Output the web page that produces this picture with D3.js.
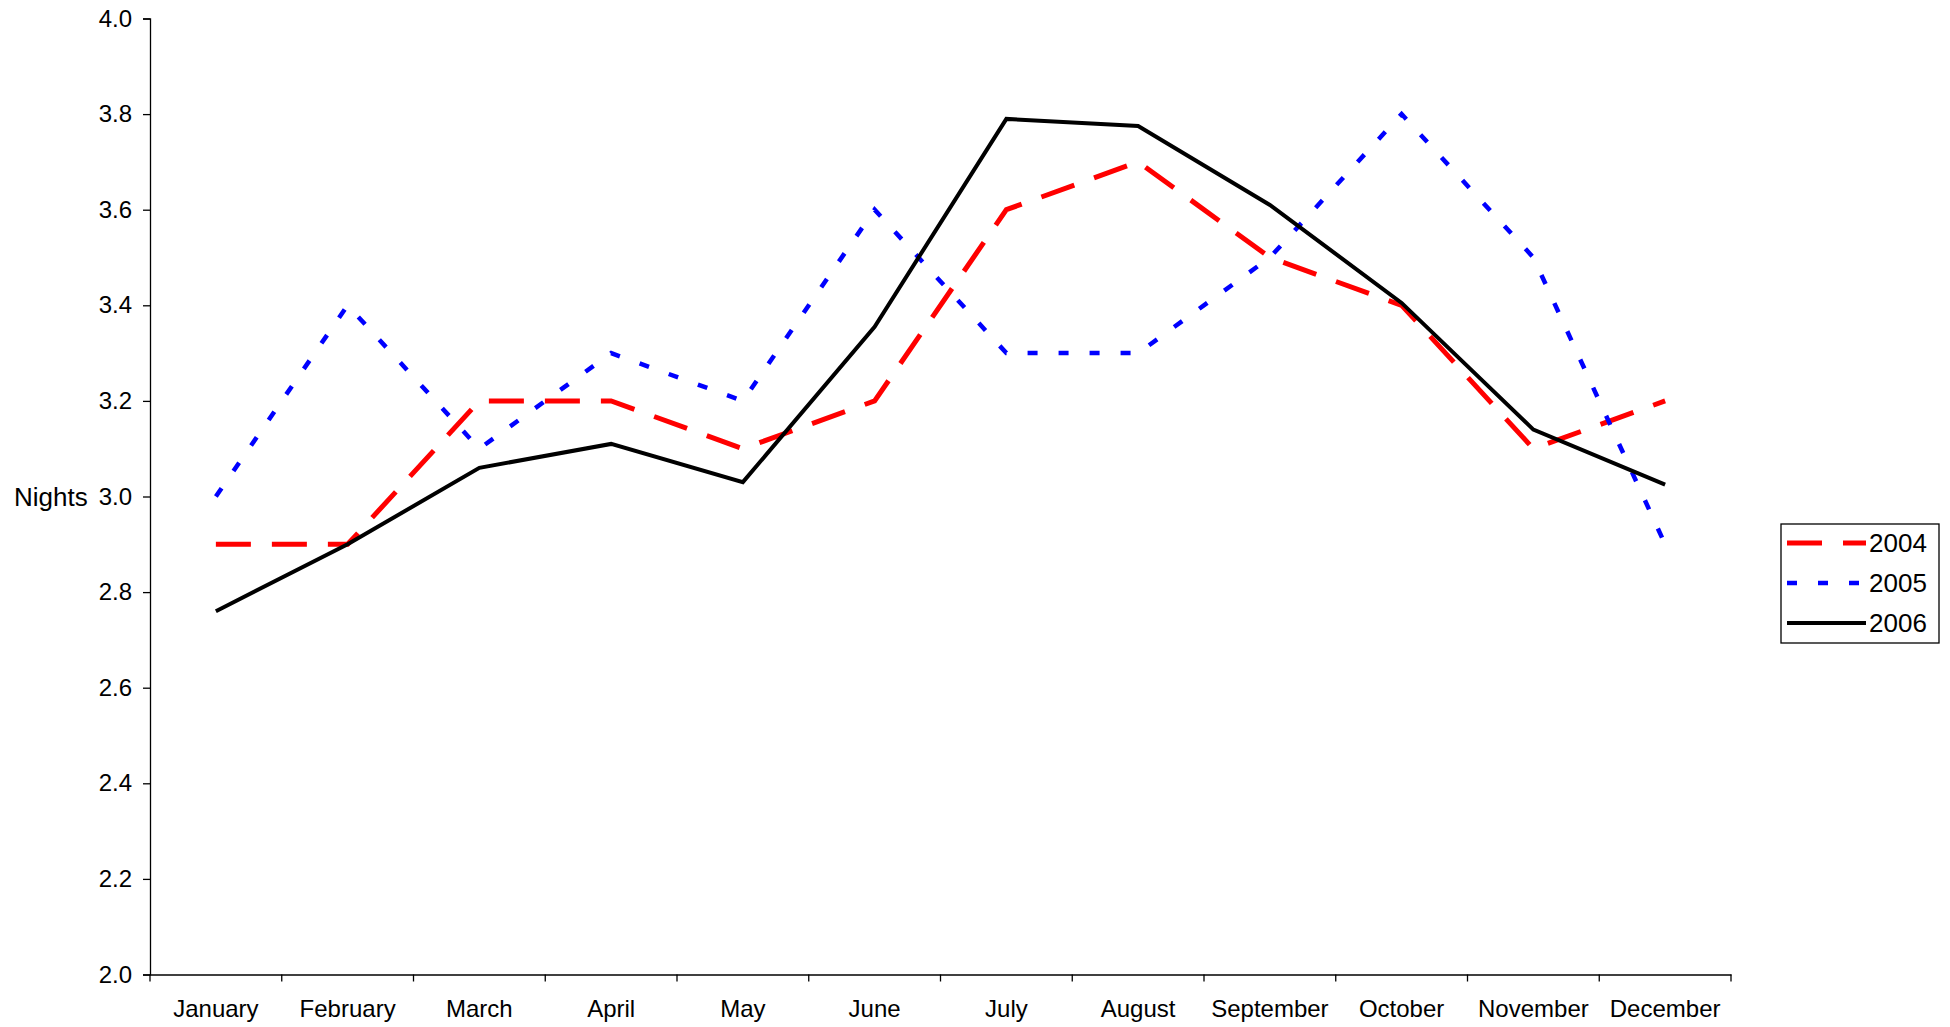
<!DOCTYPE html>
<html>
<head>
<meta charset="utf-8">
<script src="https://cdn.jsdelivr.net/npm/d3@7"></script>
<style>
  body { margin: 0; background: #fff; }
  svg text { font-family: "Liberation Sans", Arial, sans-serif; fill: #000; }
</style>
</head>
<body>
<div id="chart"></div>
<script>
const months = ['January','February','March','April','May','June','July','August','September','October','November','December'];
const nights2004 = [2.9, 2.9, 3.2, 3.2, 3.1, 3.2, 3.6, 3.7, 3.5, 3.4, 3.1, 3.2];
const nights2005 = [3.0, 3.4, 3.1, 3.3, 3.2, 3.6, 3.3, 3.3, 3.5, 3.8, 3.5, 2.9];
const nights2006 = [2.76, 2.9, 3.06, 3.11, 3.03, 3.355, 3.79, 3.775, 3.61, 3.405, 3.14, 3.025];
const yTicks = [2.0, 2.2, 2.4, 2.6, 2.8, 3.0, 3.2, 3.4, 3.6, 3.8, 4.0];

const series = [
    { name: '2004', values: nights2004, color: '#ff0000', width: 5, dash: '35,21' },
    { name: '2005', values: nights2005, color: '#0000ff', width: 4.5, dash: '10,21' },
    { name: '2006', values: nights2006, color: '#000000', width: 4, dash: null }
];

const width = 1950, height = 1027;
const plotLeft = 150, plotRight = 1731, plotTop = 18.5, plotBottom = 974.5;

const svg = d3.select('#chart')
.append('svg')
.attr('width', width)
.attr('height', height);

const x = d3.scaleBand()
.domain(months)
.range([plotLeft, plotRight])
.padding(0);

const y = d3.scaleLinear()
.domain([2, 4])
.range([plotBottom, plotTop]);

// y axis
const yAxis = svg.append('g')
.attr('transform', `translate(${plotLeft},0)`)
.call(d3.axisLeft(y).tickValues(yTicks).tickFormat(d3.format('.1f')).tickSize(7).tickPadding(11));
yAxis.selectAll('text').style('font-size', '24px');
yAxis.selectAll('line, path').attr('stroke', '#000').attr('stroke-width', 1.3);

// x axis: labels at band centers, ticks at band edges
const xAxis = svg.append('g')
.attr('transform', `translate(0,${plotBottom})`)
.call(d3.axisBottom(x).tickSize(0).tickPadding(25));
xAxis.selectAll('text').style('font-size', '24px');
xAxis.select('path').attr('stroke', '#000').attr('stroke-width', 1.3);

const edges = months.map(m => x(m)).concat([plotRight]);
svg.append('g')
.selectAll('line')
.data(edges)
.enter()
.append('line')
.attr('x1', d => d)
.attr('x2', d => d)
.attr('y1', plotBottom)
.attr('y2', plotBottom + 7)
.attr('stroke', '#000')
.attr('stroke-width', 1.3);

// axis title
svg.append('text')
.attr('x', 14)
.attr('y', y(3.0) + 9)
.style('font-size', '26px')
.text('Nights');

// lines
const line = d3.line()
.x((d, i) => x(months[i]) + x.bandwidth() / 2)
.y(d => y(d));

series.forEach(s => {
    svg.append('path')
    .datum(s.values)
    .attr('d', line)
    .attr('fill', 'none')
    .attr('stroke', s.color)
    .attr('stroke-width', s.width)
    .attr('stroke-dasharray', s.dash)
    .attr('stroke-linejoin', 'miter');
});

// legend
const legend = svg.append('g');
legend.append('rect')
.attr('x', 1781)
.attr('y', 524)
.attr('width', 158)
.attr('height', 119)
.attr('fill', '#fff')
.attr('stroke', '#000')
.attr('stroke-width', 1.3);

series.forEach((s, i) => {
    const cy = 543 + i * 40;
    legend.append('line')
    .attr('x1', 1787)
    .attr('x2', 1866)
    .attr('y1', cy)
    .attr('y2', cy)
    .attr('stroke', s.color)
    .attr('stroke-width', s.width)
    .attr('stroke-dasharray', s.dash);

    legend.append('text')
    .attr('x', 1869)
    .attr('y', cy + 9)
    .style('font-size', '26px')
    .text(s.name);
});
</script>
</body>
</html>
